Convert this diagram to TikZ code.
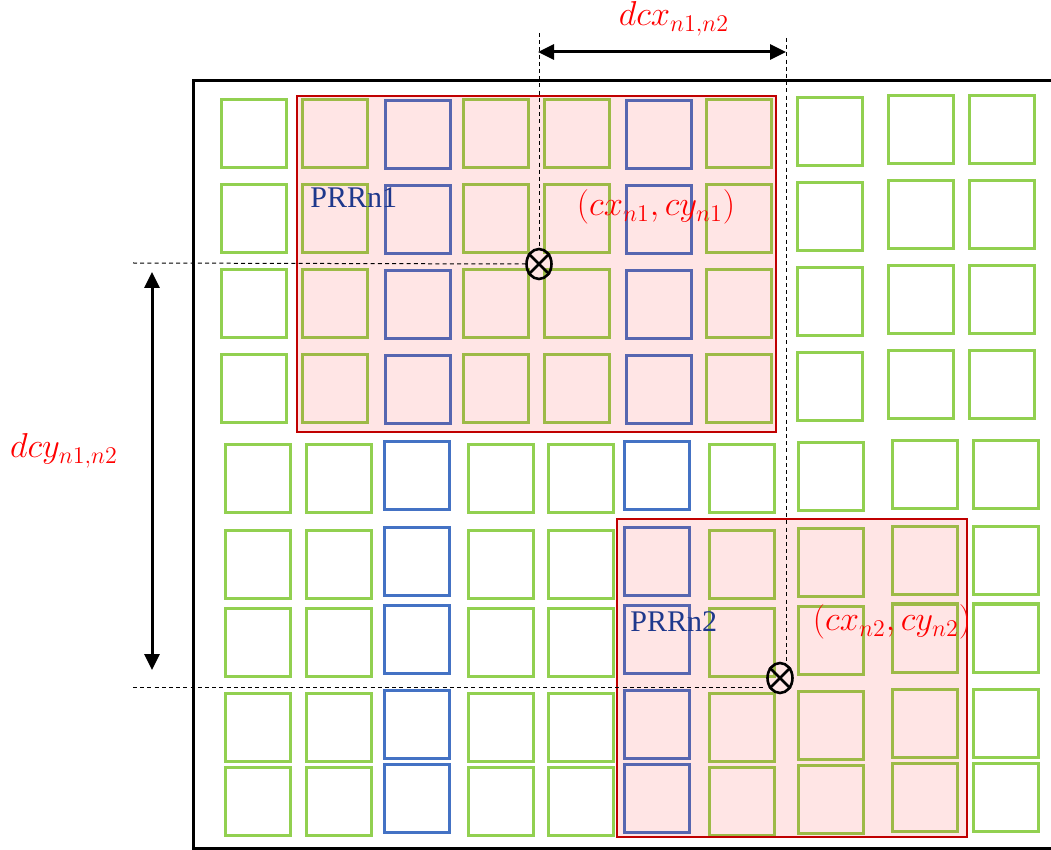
\documentclass[tikz,border=0pt]{standalone}
\usepackage{fontspec}
\setmainfont{Liberation Serif}
\usepackage{tikz}
\usetikzlibrary{positioning}
\usetikzlibrary{shapes.geometric,arrows.meta}
\definecolor{cellgreen}{RGB}{146,208,80}
\definecolor{cellblue}{RGB}{68,114,196}
\definecolor{prrred}{RGB}{192,0,0}
\definecolor{prrtext}{RGB}{31,56,140}

\begin{document}
\begin{tikzpicture}[
x=0.5pt, y=-0.5pt,
green cell/.style={draw=cellgreen, line width=1.5pt},
blue cell/.style={draw=cellblue, line width=1.5pt},
prr/.style={draw=prrred, line width=1.4pt, fill=red, fill opacity=0.1},
guide/.style={draw=black, line width=0.5pt, dash pattern=on 2pt off 1.6pt},
center mark/.style={draw, ellipse, line width=1.3pt, minimum width=12.5pt, minimum height=15pt, inner sep=0pt},
dim/.style={line width=1.5pt, {Triangle[length=8pt,width=7.5pt]}-{Triangle[length=8pt,width=7.5pt]}},
red label/.style={text=red, font=\fontsize{18}{21}\selectfont, inner sep=0pt, anchor=base},
prr label/.style={text=prrtext, font=\fontsize{15}{18}\selectfont, inner sep=0pt, anchor=base west}
]
\useasboundingbox (0,0) rectangle (1051,850);

% upper block of cells
\foreach \y in {100,185,270,355}{
  \foreach \x in {221,302,463,544,706}
    \draw[green cell] (\x,\y) rectangle ++(65,68);
  \foreach \x in {385,626}
    \draw[blue cell] (\x,\y+1) rectangle ++(65,68);
  \draw[green cell] (797,\y-2) rectangle ++(65,68);
  \foreach \x in {888,969}
    \draw[green cell] (\x,\y-4) rectangle ++(65,68);
}

% lower block of cells
\foreach \y in {445,531,608,693,767}{
  \foreach \x in {225,306,468,548,709}
    \draw[green cell] (\x,\y) rectangle ++(65,68);
  \foreach \x in {384,624}
    \draw[blue cell] (\x,\y-3) rectangle ++(65,68);
  \draw[green cell] (798,\y-2) rectangle ++(65,68);
  \foreach \x in {892,973}
    \draw[green cell] (\x,\y-4) rectangle ++(65,68);
}

% device frame
\draw[line width=1.5pt] (1051,81) -- (193,81) -- (193,848) -- (1051,848);

% PRR regions
\draw[prr] (297,96) rectangle (776,432);
\draw[prr] (617,519) rectangle (967,837);

\node[prr label] (prr1) at (310,208) {PRRn1};
\node[prr label] (prr2) at (630,632) {PRRn2};

% centres
\node[center mark] (c1) at (539,264) {};
\node[center mark] (c2) at (780,678) {};
\draw[line width=1.3pt] (c1.45) -- (c1.225) (c1.135) -- (c1.315);
\draw[line width=1.3pt] (c2.45) -- (c2.225) (c2.135) -- (c2.315);

\coordinate (h1) at (133,263);
\coordinate (v1) at (539,33);
\coordinate (h2) at (133,687);
\coordinate (v2) at (786,38);

\draw[guide] (h1) -- (c1.west);
\draw[guide] (v1) -- (c1.north);
\draw[guide] (h2) -- (h2 -| c2.west);
\draw[guide] (v2) -- (v2 |- c2.north);

% distances
\coordinate (dx1) at (538,52);
\coordinate (dx2) at (786,52);
\coordinate (dy1) at (152,272);
\coordinate (dy2) at (152,670);
\draw[dim] (dx1) -- (dx2);
\draw[dim] (dy1) -- (dy2);

\node[red label] (dcx) at (674,26) {$dcx_{n1,n2}$};
\node[red label] (dcy) at (64,458) {$dcy_{n1,n2}$};
\node[red label] (cn1) at (656,216) {$(cx_{n1},cy_{n1})$};
\node[red label] (cn2) at (892,631) {$(cx_{n2},cy_{n2})$};

\end{tikzpicture}
\end{document}
